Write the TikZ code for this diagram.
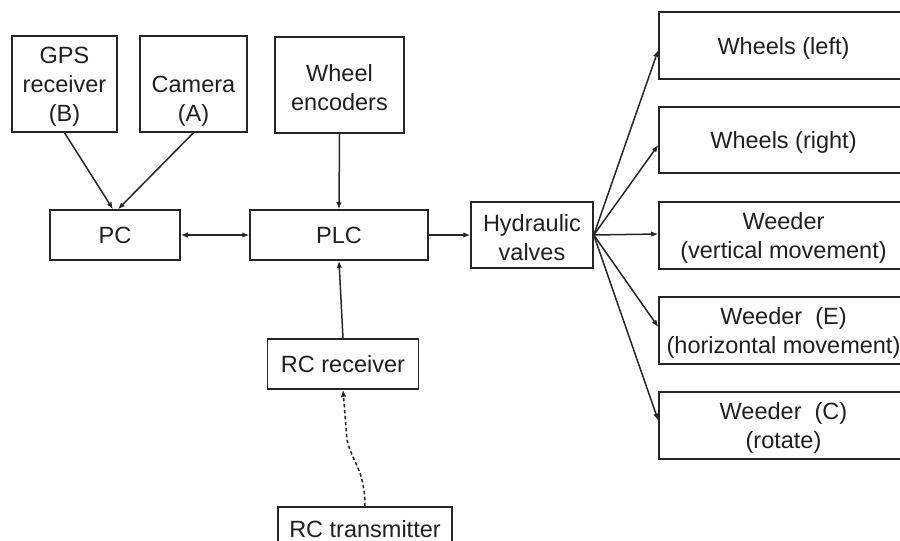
\documentclass[tikz,border=0pt]{standalone}
\usepackage{fontspec}
\setmainfont{Liberation Sans}
\usetikzlibrary{arrows.meta}
\newcommand{\toprule}{\rule{0pt}{22pt}}
\begin{document}
\begin{tikzpicture}[x=1pt,y=-1pt,
  box/.style={draw=black!85, line width=1.5pt, inner sep=0pt, align=center,
    font=\fontsize{23.5}{29}\selectfont, text=black!88},
  conn/.style={line width=1.5pt, draw=black!85, -{Latex[length=7pt,width=5.5pt]}},
  dconn/.style={conn, dash pattern=on 3.5pt off 2.5pt}]
\useasboundingbox (0,0) rectangle (900,541);
\clip (0,0) rectangle (900,541);
\fill[white] (0,0) rectangle (900,541);
% left column
\node[box, minimum width=105pt, minimum height=96pt] (gps) at (64.5,84) {\toprule GPS\\receiver\\(B)};
\node[box, minimum width=107pt, minimum height=96pt] (cam) at (193.5,84) {\toprule\\Camera\\(A)};
\node[box, minimum width=129pt, minimum height=96pt] (enc) at (339.5,85) {\toprule Wheel\\encoders};
\node[box, minimum width=130pt, minimum height=50pt] (pc) at (115,235) {PC};
\node[box, minimum width=178pt, minimum height=50pt] (plc) at (339,235) {PLC};
\node[box, minimum width=122pt, minimum height=66pt] (hyd) at (532,235) {\toprule Hydraulic\\valves};
\node[box, minimum width=151pt, minimum height=50pt] (rcr) at (343,364) {RC receiver};
\node[box, minimum width=174pt, minimum height=44pt] (rct) at (365,529) {RC transmitter};
% right column
\node[box, minimum width=249pt, minimum height=67pt] (wl) at (783.5,45.5) {\toprule Wheels (left)};
\node[box, minimum width=249pt, minimum height=66pt] (wr) at (783.5,140) {\toprule Wheels (right)};
\node[box, minimum width=249pt, minimum height=67pt] (wv) at (783.5,235.5) {\toprule Weeder\\(vertical movement)};
\node[box, minimum width=249pt, minimum height=67pt] (we) at (783.5,330.5) {\toprule Weeder~~(E)\\(horizontal movement)};
\node[box, minimum width=249pt, minimum height=67pt] (wc) at (783.5,425.5) {\toprule Weeder~~(C)\\(rotate)};
% connectors
\draw[conn] (gps.south) -- ([xshift=-2pt]pc.north);
\draw[conn] (cam.south) -- ([xshift=3pt]pc.north);
\draw[conn] (enc.south) -- (plc.north);
\draw[conn, {Latex[length=7pt,width=5.5pt]}-{Latex[length=7pt,width=5.5pt]}] (pc.east) -- (plc.west);
\draw[conn] (plc.east) -- (hyd.west);
\draw[conn] (rcr.north) -- (plc.south);
\draw[dconn] (rct.north) .. controls (365,470) and (352,462) .. (347,440) -- (rcr.south);
\draw[conn] (hyd.east) -- ([yshift=-4.5pt]wl.west);
\draw[conn] (hyd.east) -- ([yshift=-5pt]wr.west);
\draw[conn] (hyd.east) -- ([yshift=1.5pt]wv.west);
\draw[conn] (hyd.east) -- ([yshift=3.5pt]we.west);
\draw[conn] (hyd.east) -- ([yshift=5pt]wc.west);
\end{tikzpicture}
\end{document}
